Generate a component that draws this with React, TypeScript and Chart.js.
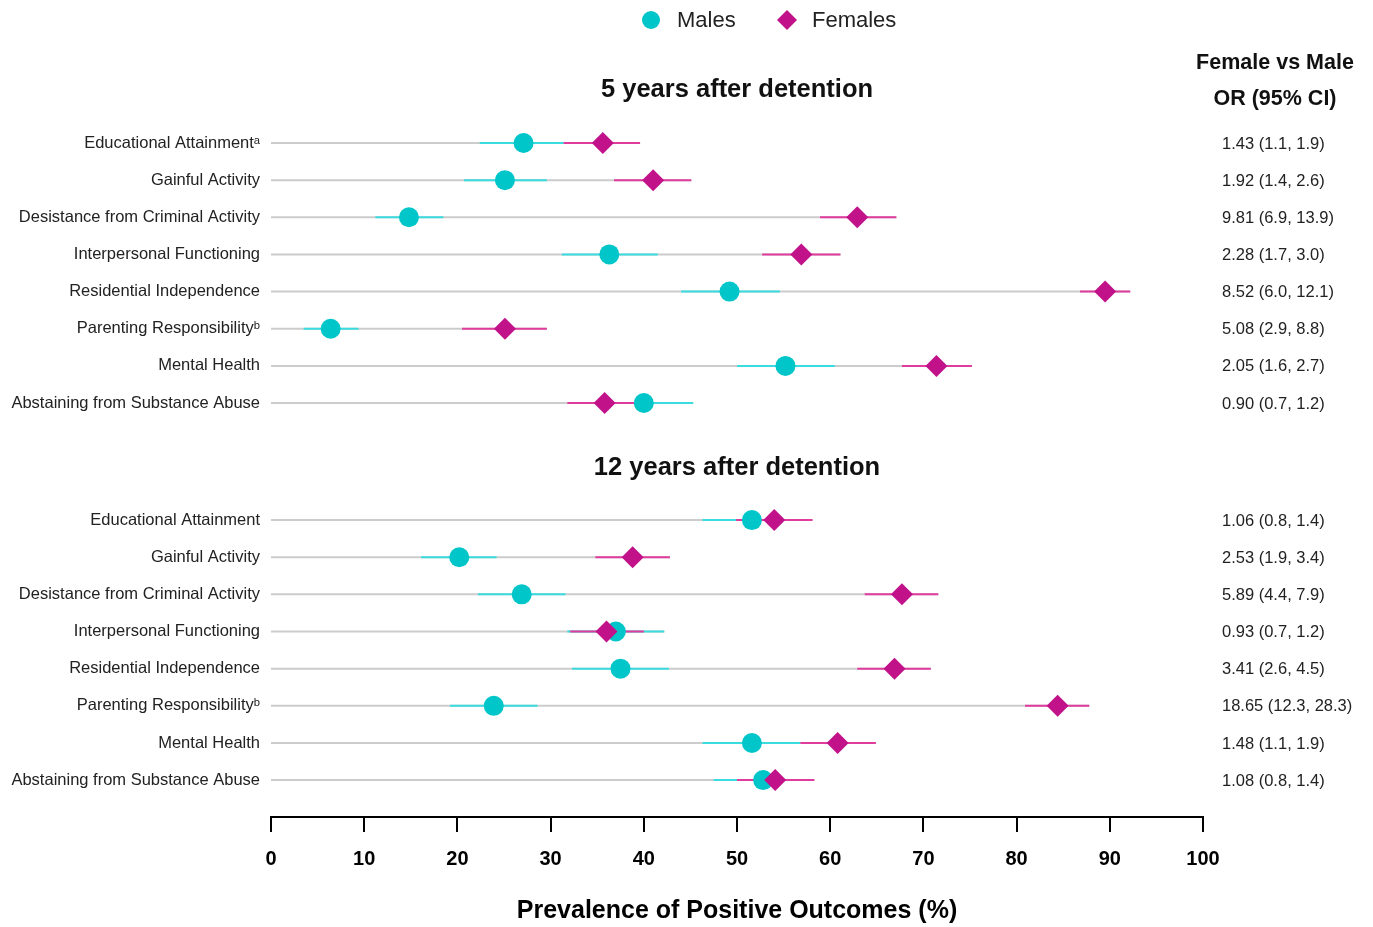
import React, { useEffect, useRef } from "react";
import { Chart, registerables } from "chart.js";

Chart.register(...registerables);

const outcomes5 = [
  "Educational Attainmentᵃ",
  "Gainful Activity",
  "Desistance from Criminal Activity",
  "Interpersonal Functioning",
  "Residential Independence",
  "Parenting Responsibilityᵇ",
  "Mental Health",
  "Abstaining from Substance Abuse",
];
const outcomes12 = [
  "Educational Attainment",
  "Gainful Activity",
  "Desistance from Criminal Activity",
  "Interpersonal Functioning",
  "Residential Independence",
  "Parenting Responsibilityᵇ",
  "Mental Health",
  "Abstaining from Substance Abuse",
];

const male5 = [27.1, 25.1, 14.8, 36.3, 49.2, 6.4, 55.2, 40.0];
const male5Lo = [22.4, 20.7, 11.2, 31.2, 44.0, 3.5, 50.0, 34.8];
const male5Hi = [31.4, 29.6, 18.5, 41.5, 54.6, 9.4, 60.5, 45.3];
const female5 = [35.6, 41.0, 62.9, 56.9, 89.5, 25.1, 71.4, 35.8];
const female5Lo = [31.4, 36.8, 58.9, 52.7, 86.8, 20.5, 67.7, 31.8];
const female5Hi = [39.6, 45.1, 67.1, 61.1, 92.2, 29.6, 75.2, 39.9];

const male12 = [51.6, 20.2, 26.9, 37.0, 37.5, 23.9, 51.6, 52.8];
const male12Lo = [46.3, 16.1, 22.2, 31.8, 32.3, 19.2, 46.3, 47.5];
const male12Hi = [56.9, 24.2, 31.6, 42.2, 42.7, 28.6, 56.8, 58.1];
const female12 = [54.0, 38.8, 67.7, 36.0, 66.9, 84.4, 60.8, 54.1];
const female12Lo = [49.9, 34.8, 63.7, 32.1, 62.9, 80.9, 56.8, 50.0];
const female12Hi = [58.1, 42.8, 71.6, 40.0, 70.8, 87.8, 64.9, 58.3];

const orText5 = [
  "1.43 (1.1, 1.9)",
  "1.92 (1.4, 2.6)",
  "9.81 (6.9, 13.9)",
  "2.28 (1.7, 3.0)",
  "8.52 (6.0, 12.1)",
  "5.08 (2.9, 8.8)",
  "2.05 (1.6, 2.7)",
  "0.90 (0.7, 1.2)",
];
const orText12 = [
  "1.06 (0.8, 1.4)",
  "2.53 (1.9, 3.4)",
  "5.89 (4.4, 7.9)",
  "0.93 (0.7, 1.2)",
  "3.41 (2.6, 4.5)",
  "18.65 (12.3, 28.3)",
  "1.48 (1.1, 1.9)",
  "1.08 (0.8, 1.4)",
];

const sectionTitles = ["5 years after detention", "12 years after detention"];
const orHeader = ["Female vs Male", "OR (95% CI)"];
const xTicks = [0, 10, 20, 30, 40, 50, 60, 70, 80, 90, 100];
const seriesNames = ["Males", "Females"];

// layout constants (row index offsets)
const BLOCK2_OFFSET = 10.15;
const rows5 = outcomes5.map((_, i) => i);
const rows12 = outcomes12.map((_, i) => i + BLOCK2_OFFSET);
const allRows = [...rows5, ...rows12];
const allLabels = [...outcomes5, ...outcomes12];
const maleAll = [...male5, ...male12];
const maleLoAll = [...male5Lo, ...male12Lo];
const maleHiAll = [...male5Hi, ...male12Hi];
const femaleAll = [...female5, ...female12];
const femaleLoAll = [...female5Lo, ...female12Lo];
const femaleHiAll = [...female5Hi, ...female12Hi];
const orAll = [...orText5, ...orText12];

const CYAN = "#00C6C9";
const CYAN_LINE = "#3ADCE0";
const MAGENTA = "#C2128A";
const MAGENTA_LINE = "#E03C9E";
const GRAY = "#CCCCCC";
const FONT = "'Liberation Sans', Arial, Helvetica, sans-serif";

const Y_MIN = -2.7725;
const Y_MAX = 18.143;

const forestPlugin = {
  id: "forest",
  beforeDatasetsDraw(chart: any) {
    const { ctx } = chart;
    const xs = chart.scales.x;
    const ys = chart.scales.y;
    ctx.save();
    ctx.lineCap = "butt";
    allRows.forEach((r, i) => {
      const y = ys.getPixelForValue(r);
      const maxHi = Math.max(maleHiAll[i], femaleHiAll[i]);
      ctx.strokeStyle = GRAY;
      ctx.lineWidth = 2;
      ctx.beginPath();
      ctx.moveTo(xs.getPixelForValue(0), y);
      ctx.lineTo(xs.getPixelForValue(maxHi), y);
      ctx.stroke();
      ctx.strokeStyle = CYAN_LINE;
      ctx.lineWidth = 2;
      ctx.beginPath();
      ctx.moveTo(xs.getPixelForValue(maleLoAll[i]), y);
      ctx.lineTo(xs.getPixelForValue(maleHiAll[i]), y);
      ctx.stroke();
      ctx.strokeStyle = MAGENTA_LINE;
      ctx.beginPath();
      ctx.moveTo(xs.getPixelForValue(femaleLoAll[i]), y);
      ctx.lineTo(xs.getPixelForValue(femaleHiAll[i]), y);
      ctx.stroke();
    });
    ctx.restore();
  },
  afterDraw(chart: any) {
    const { ctx, chartArea } = chart;
    const ys = chart.scales.y;
    ctx.save();
    // section titles
    ctx.fillStyle = "#111";
    ctx.font = `bold 25.5px ${FONT}`;
    ctx.textAlign = "center";
    ctx.textBaseline = "middle";
    const cx = (chartArea.left + chartArea.right) / 2;
    ctx.fillText(sectionTitles[0], cx, ys.getPixelForValue(-1.43));
    ctx.fillText(sectionTitles[1], cx, ys.getPixelForValue(BLOCK2_OFFSET - 1.41));

    // OR header
    const orCx = chartArea.right + 72;
    ctx.font = `bold 21.5px ${FONT}`;
    ctx.fillText(orHeader[0], orCx, ys.getPixelForValue(-2.15));
    ctx.fillText(orHeader[1], orCx, ys.getPixelForValue(-1.18));

    // OR values
    ctx.font = `16.5px ${FONT}`;
    ctx.fillStyle = "#222";
    const leftX = chartArea.right + 19;
    const limit = chart.width - 18;
    allRows.forEach((r, i) => {
      const y = ys.getPixelForValue(r) + 1;
      const w = ctx.measureText(orAll[i]).width;
      if (leftX + w > limit) {
        ctx.textAlign = "right";
        ctx.fillText(orAll[i], limit, y);
      } else {
        ctx.textAlign = "left";
        ctx.fillText(orAll[i], leftX, y);
      }
    });

    // legend
    const ly = 20;
    ctx.textAlign = "left";
    ctx.font = `22px ${FONT}`;
    ctx.fillStyle = CYAN;
    ctx.beginPath();
    ctx.arc(651, ly, 9, 0, Math.PI * 2);
    ctx.fill();
    ctx.fillStyle = "#222";
    ctx.fillText(seriesNames[0], 677, ly + 1);
    ctx.fillStyle = MAGENTA;
    ctx.beginPath();
    ctx.moveTo(787, ly - 10);
    ctx.lineTo(797, ly);
    ctx.lineTo(787, ly + 10);
    ctx.lineTo(777, ly);
    ctx.closePath();
    ctx.fill();
    ctx.fillStyle = "#222";
    ctx.fillText(seriesNames[1], 812, ly + 1);
    ctx.restore();
  },
};

export default function App() {
  const ref = useRef<HTMLCanvasElement | null>(null);

  useEffect(() => {
    document.body.style.margin = "0";
    if (!ref.current) return;
    Chart.defaults.font.family = FONT;
    const chart = new Chart(ref.current, {
      type: "scatter",
      data: {
        datasets: [
          {
            label: seriesNames[0],
            data: maleAll.map((v, i) => ({ x: v, y: allRows[i] })),
            backgroundColor: CYAN,
            borderColor: CYAN,
            borderWidth: 0,
            pointStyle: "circle",
            pointRadius: 10,
            pointHoverRadius: 10,
            order: 1,
          },
          {
            label: seriesNames[1],
            data: femaleAll.map((v, i) => ({ x: v, y: allRows[i] })),
            backgroundColor: MAGENTA,
            borderColor: MAGENTA,
            borderWidth: 0,
            pointStyle: "rectRot",
            pointRadius: 11,
            pointHoverRadius: 11,
            order: 0,
          },
        ],
      },
      options: {
        responsive: false,
        animation: false,
        events: [],
        layout: { padding: { top: 40, right: 170, bottom: 0, left: 0 } },
        plugins: {
          legend: { display: false },
          tooltip: { enabled: false },
        },
        scales: {
          x: {
            type: "linear",
            min: 0,
            max: 100,
            afterBuildTicks: (axis: any) => {
              axis.ticks = xTicks.map((v) => ({ value: v }));
            },
            afterFit: (axis: any) => {
              axis.height = 110;
            },
            border: { display: true, color: "#000", width: 2 },
            grid: {
              drawOnChartArea: false,
              drawTicks: true,
              tickLength: 15,
              color: "#000",
              lineWidth: 2,
            },
            ticks: {
              padding: 15,
              color: "#000",
              font: { size: 20, weight: "bold", family: FONT },
              maxRotation: 0,
              autoSkip: false,
            },
            title: {
              display: true,
              text: "Prevalence of Positive Outcomes (%)",
              color: "#000",
              font: { size: 25, weight: "bold", family: FONT },
              padding: { top: 0, bottom: 1 },
            },
          },
          y: {
            type: "linear",
            reverse: true,
            min: Y_MIN,
            max: Y_MAX,
            afterBuildTicks: (axis: any) => {
              axis.ticks = allRows.map((v) => ({ value: v }));
            },
            afterFit: (axis: any) => {
              axis.width = 271;
            },
            border: { display: false },
            grid: { display: false, drawTicks: false },
            ticks: {
              autoSkip: false,
              padding: 11,
              color: "#222",
              font: { size: 16.5, family: FONT },
              callback: (_v: any, i: number) => allLabels[i],
            },
          },
        },
      },
      plugins: [forestPlugin],
    });
    return () => chart.destroy();
  }, []);

  return (
    <div style={{ width: 1373, height: 927, background: "#fff" }}>
      <canvas ref={ref} width={1373} height={927} style={{ display: "block" }} />
    </div>
  );
}
